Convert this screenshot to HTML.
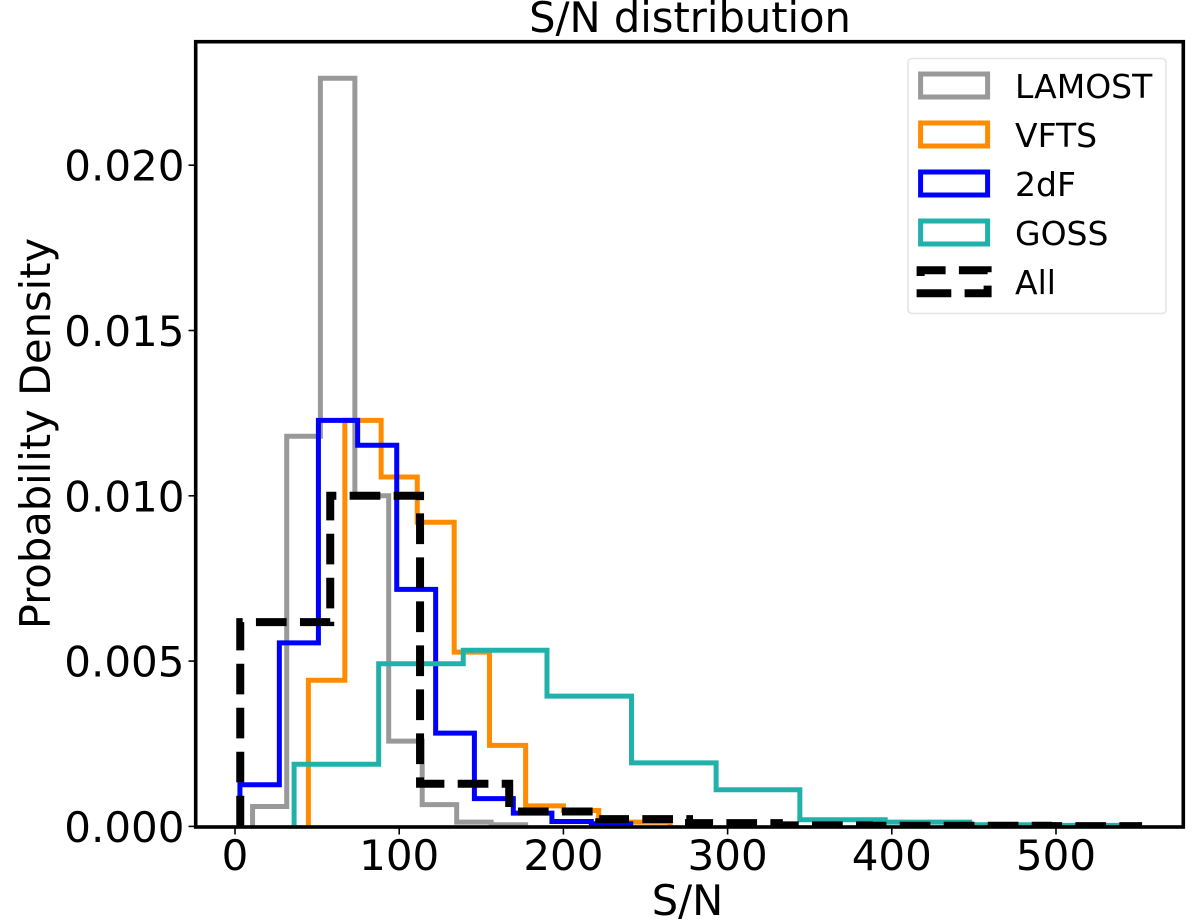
<!DOCTYPE html>
<html>
<head>
<meta charset="utf-8">
<style>
html,body{margin:0;padding:0;background:#fff;}
svg{display:block;}
text{font-family:"DejaVu Sans","Liberation Sans",sans-serif;fill:#000;}
</style>
</head>
<body>
<svg id="chart" xmlns="http://www.w3.org/2000/svg" width="1200" height="921" viewBox="0 0 1200 921">
  <defs><clipPath id="plot-clip"><rect x="195.7" y="41.7" width="987.6" height="785.3"/></clipPath></defs>
  <rect x="195.7" y="41.7" width="987.6" height="785.3" fill="#fff"/>
  <g id="series" clip-path="url(#plot-clip)" fill="none"></g>
  <g id="x-ticks"></g>
  <g id="y-ticks"></g>
  <rect x="195.7" y="41.7" width="987.6" height="785.3" fill="none" stroke="#000" stroke-width="3.6"/>
  <text x="690" y="32" font-size="41.6" text-anchor="middle">S/N distribution</text>
  <text x="687.5" y="915" font-size="41.6" text-anchor="middle">S/N</text>
  <text transform="translate(50,433.5) rotate(-90)" font-size="41.6" text-anchor="middle">Probability Density</text>
  <g>
    <rect x="908" y="58.5" width="258" height="255" rx="4" fill="#fff" fill-opacity="0.8" stroke="#e4e4e4" stroke-width="1.5"/>
    <g>
      <rect x="920.6" y="74" width="67" height="23" fill="none" stroke="#999999" stroke-width="5"/>
      <text x="1015" y="98" font-size="33">LAMOST</text>
    </g>
    <g>
      <rect x="920.6" y="123" width="67" height="23" fill="none" stroke="#ff8c00" stroke-width="5"/>
      <text x="1015" y="147" font-size="33">VFTS</text>
    </g>
    <g>
      <rect x="920.6" y="172" width="67" height="23" fill="none" stroke="#0000ff" stroke-width="5"/>
      <text x="1015" y="196" font-size="33">2dF</text>
    </g>
    <g>
      <rect x="920.6" y="221" width="67" height="23" fill="none" stroke="#20b2aa" stroke-width="5"/>
      <text x="1015" y="245" font-size="33">GOSS</text>
    </g>
    <g>
      <path d="M920.6 293.3H987.6V270.3H920.6Z" fill="none" stroke="#000" stroke-width="8" stroke-dasharray="30.7 13.3"/>
      <text x="1015" y="294" font-size="33">All</text>
    </g>
  </g>
</svg>
<script>
// Tick labels
const xTickValues = [0, 100, 200, 300, 400, 500];
const yTickValues = [0.000, 0.005, 0.010, 0.015, 0.020];

// Histogram bin edges (S/N) and densities
const lamostEdges = [10.7, 31.5, 52, 73, 93.6, 114, 135, 156, 177];
const lamostValues = [0.0006, 0.0118, 0.02263, 0.0100, 0.00258, 0.00066, 0.00013, 0.00005];

const vftsEdges = [44.7, 66.9, 89, 111, 133.5, 155, 177, 200, 221.5, 243, 265];
const vftsValues = [0.00442, 0.01228, 0.01057, 0.0092, 0.00527, 0.00245, 0.00062, 0.00048, 0.00013, 0.00013];

const twoDfEdges = [3, 27, 50.8, 74.7, 98.5, 122.2, 145.8, 169.5, 193, 217, 241];
const twoDfValues = [0.00126, 0.00555, 0.01228, 0.01153, 0.00717, 0.00282, 0.00084, 0.0004, 0.00015, 0.00008];

const gossEdges = [36, 87.5, 139, 190, 241.5, 293, 344, 396, 447.5, 499, 550];
const gossValues = [0.00188, 0.00492, 0.00533, 0.00394, 0.00192, 0.00111, 0.0002, 0.00013, 0.00005, 0.00003];

const allEdges = [3.2, 58, 112.7, 167, 221.8, 276.5, 331.2, 386, 440.7, 495, 550];
const allValues = [0.00618, 0.0100, 0.00129, 0.00045, 0.00022, 0.0001, 0.00003, 0.00002, 0.00002, 0.00001];

const NS = 'http://www.w3.org/2000/svg';
function xScale(v) { return 235 + 1.642 * v; }
function yScale(v) { return 826.4 - 33060 * v; }

function stepPath(edges, values) {
  let d = 'M' + xScale(edges[0]).toFixed(2) + ' ' + yScale(0).toFixed(2);
  for (let i = 0; i < values.length; i++) {
    d += 'V' + yScale(values[i]).toFixed(2);
    d += 'H' + xScale(edges[i + 1]).toFixed(2);
  }
  d += 'V' + yScale(0).toFixed(2);
  return d;
}

const seriesGroup = document.getElementById('series');
function addSeries(name, edges, values, color, width, dash) {
  const p = document.createElementNS(NS, 'path');
  p.setAttribute('d', stepPath(edges, values));
  p.setAttribute('stroke', color);
  p.setAttribute('stroke-width', width);
  p.setAttribute('stroke-linejoin', 'miter');
  if (dash) p.setAttribute('stroke-dasharray', dash);
  
  
  seriesGroup.appendChild(p);
}
addSeries('series-lamost', lamostEdges, lamostValues, '#999999', 5);
addSeries('series-vfts', vftsEdges, vftsValues, '#ff8c00', 5);
addSeries('series-2df', twoDfEdges, twoDfValues, '#0000ff', 5);
addSeries('series-goss', gossEdges, gossValues, '#20b2aa', 5);
addSeries('series-all', allEdges, allValues, '#000000', 8, '30.7 13.3');

const xGroup = document.getElementById('x-ticks');
xTickValues.forEach(function (v) {
  const x = xScale(v);
  const t = document.createElementNS(NS, 'line');
  t.setAttribute('x1', x); t.setAttribute('x2', x);
  t.setAttribute('y1', 827); t.setAttribute('y2', 834.5);
  t.setAttribute('stroke', '#000'); t.setAttribute('stroke-width', 1.6);
  
  
  xGroup.appendChild(t);
  const l = document.createElementNS(NS, 'text');
  l.setAttribute('x', x); l.setAttribute('y', 870);
  l.setAttribute('font-size', '42');
  l.setAttribute('text-anchor', 'middle');
  l.textContent = String(v);
  
  
  xGroup.appendChild(l);
});

const yGroup = document.getElementById('y-ticks');
yTickValues.forEach(function (v) {
  const y = yScale(v);
  const t = document.createElementNS(NS, 'line');
  t.setAttribute('x1', 188.5); t.setAttribute('x2', 195.7);
  t.setAttribute('y1', y); t.setAttribute('y2', y);
  t.setAttribute('stroke', '#000'); t.setAttribute('stroke-width', 1.6);
  
  
  yGroup.appendChild(t);
  const l = document.createElementNS(NS, 'text');
  l.setAttribute('x', 184.5); l.setAttribute('y', y + 15.5);
  l.setAttribute('font-size', '42');
  l.setAttribute('text-anchor', 'end');
  l.textContent = v.toFixed(3);
  
  
  yGroup.appendChild(l);
});
</script>
</body>
</html>
